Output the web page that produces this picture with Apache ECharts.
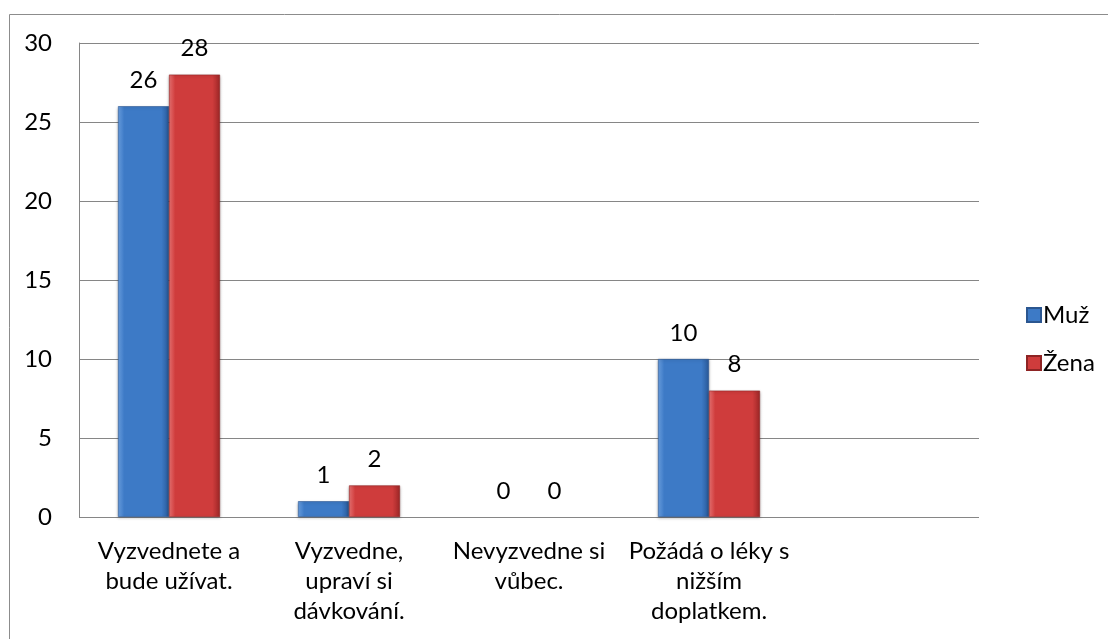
<!DOCTYPE html>
<html>
<head>
<meta charset="utf-8">
<script src="https://cdn.jsdelivr.net/npm/echarts@6/dist/echarts.min.js"></script>
<style>
  html, body { margin: 0; padding: 0; background: #ffffff; }
  #chart { width: 1108px; height: 639px; }
</style>
</head>
<body>
<div id="chart"></div>
<script>
// Answer categories (the last slot is intentionally empty)
const categories = [
  'Vyzvednete a\nbude užívat.',
  'Vyzvedne,\nupraví si\ndávkování.',
  'Nevyzvedne si\nvůbec.',
  'Požádá o léky s\nnižším\ndoplatkem.',
  ''
];
const seriesNames = ['Muž', 'Žena'];
const valuesMuz = [26, 1, 0, 10, null];
const valuesZena = [28, 2, 0, 8, null];
const yTicks = [0, 5, 10, 15, 20, 25, 30];

const FONT = 'Lato, "Open Sans", sans-serif';
const FS = 24;

function barFill(light, mid, dark) {
  return new echarts.graphic.LinearGradient(0, 0, 1, 0, [
    { offset: 0, color: light },
    { offset: 0.12, color: mid },
    { offset: 0.85, color: mid },
    { offset: 1, color: dark }
  ]);
}

// zero-height bars get no fill, outline or shadow, only their value label
function withFlatZeros(values) {
  return values.map(v => v === 0
    ? { value: v, itemStyle: { color: 'rgba(0,0,0,0)', borderWidth: 0, shadowBlur: 0, shadowOffsetY: 0, shadowColor: 'rgba(0,0,0,0)' } }
    : v);
}

const chart = echarts.init(document.getElementById('chart'), null, { renderer: 'canvas' });

const labelStyle = {
  show: true,
  position: 'top',
  distance: 14,
  color: '#000',
  fontSize: FS,
  fontFamily: FONT
};

chart.setOption({
  animation: false,
  backgroundColor: '#ffffff',
  graphic: [{
    type: 'rect',
    shape: { x: 9.5, y: 14.5, width: 1300, height: 800 },
    style: { fill: 'none', stroke: '#8c8c8c', lineWidth: 1 },
    silent: true,
    z: -10
  }],
  grid: { left: 79, right: 129, top: 43, bottom: 122 },
  legend: {
    orient: 'vertical',
    left: 1021,
    top: 298,
    itemWidth: 14,
    itemHeight: 14,
    itemGap: 24,
    icon: 'rect',
    textStyle: { fontSize: FS, lineHeight: 24, fontFamily: FONT, color: '#000', padding: [0, 0, 0, -3] },
    data: seriesNames
  },
  xAxis: {
    type: 'category',
    data: categories,
    axisLine: { show: false },
    axisTick: { show: false },
    axisLabel: {
      interval: 0,
      margin: 19,
      color: '#000',
      fontSize: FS,
      fontFamily: FONT,
      lineHeight: 30,
      align: 'center'
    }
  },
  yAxis: {
    type: 'value',
    min: 0,
    max: yTicks[yTicks.length - 1],
    interval: yTicks[1] - yTicks[0],
    axisLine: { show: true, lineStyle: { color: '#868686', width: 1 } },
    axisTick: { show: false },
    axisLabel: {
      margin: 27,
      color: '#000',
      fontSize: FS,
      fontFamily: FONT,
      formatter: v => yTicks.includes(v) ? String(v) : ''
    },
    splitLine: { show: true, lineStyle: { color: '#868686', width: 1 } }
  },
  series: [
    {
      name: seriesNames[0],
      type: 'bar',
      data: withFlatZeros(valuesMuz),
      barWidth: 51,
      barGap: '0%',
      itemStyle: {
        color: barFill('#6a9fe0', '#3d7ac6', '#2a5a9a'),
        borderColor: '#2b5690',
        borderWidth: 0.6,
        shadowColor: 'rgba(0,0,0,0.25)',
        shadowBlur: 3,
        shadowOffsetY: 1
      },
      label: labelStyle
    },
    {
      name: seriesNames[1],
      type: 'bar',
      data: withFlatZeros(valuesZena),
      barWidth: 51,
      barGap: '0%',
      itemStyle: {
        color: barFill('#e87272', '#cf3c3c', '#9e2727'),
        borderColor: '#8e2424',
        borderWidth: 0.6,
        shadowColor: 'rgba(0,0,0,0.25)',
        shadowBlur: 3,
        shadowOffsetY: 1
      },
      label: labelStyle
    }
  ]
});
</script>
</body>
</html>
